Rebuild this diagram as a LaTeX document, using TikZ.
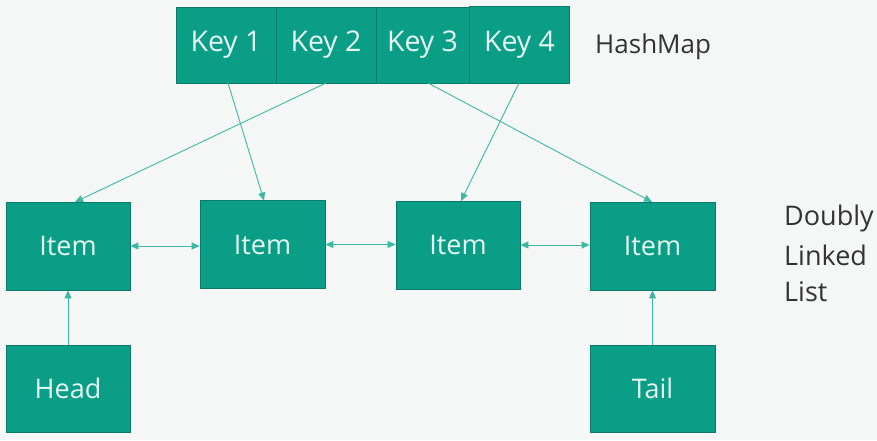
\documentclass[tikz,border=0pt]{standalone}
\usepackage{fontspec}
\setmainfont{Open Sans}
\usetikzlibrary{arrows.meta}
\definecolor{boxfill}{HTML}{0A9E87}
\definecolor{boxline}{HTML}{0B7A68}
\definecolor{arrowc}{HTML}{3DB8A2}
\definecolor{bgc}{HTML}{F5F7F7}
\definecolor{boxtext}{HTML}{E6F6F1}
\definecolor{sidetext}{HTML}{333333}
\tikzset{
  cell/.style={draw=boxline, line width=0.8pt, fill=boxfill, text=boxtext, inner sep=0pt, font=\fontsize{27}{30}\selectfont},
  keycell/.style={cell, font=\fontsize{28.5}{32}\selectfont},
  conn/.style={draw=arrowc, line width=0.9pt, -{Triangle[length=8pt,width=7pt]}},
  dconn/.style={draw=arrowc, line width=0.9pt, {Triangle[length=8pt,width=7pt]}-{Triangle[length=8pt,width=7pt]}},
  side/.style={text=sidetext, anchor=west, inner sep=0pt, font=\fontsize{27}{30}\selectfont}
}
\begin{document}
\begin{tikzpicture}[x=1pt,y=1pt]
\fill[bgc] (0,0) rectangle (877,-440);
\useasboundingbox (0,0) rectangle (877,-440);
% keys
\node[keycell, minimum width=100pt, minimum height=76pt] (k1) at (226,-45) {Key 1};
\node[keycell, minimum width=100pt, minimum height=76pt] (k2) at (326,-45) {Key 2};
\node[keycell, minimum width=93pt, minimum height=76pt] (k3) at (422.5,-45) {Key 3};
\node[keycell, minimum width=100pt, minimum height=77pt] (k4) at (519.5,-44.5) {Key 4};
\node[side, font=\fontsize{26}{30}\selectfont] (hm) at (595,-47) {HashMap};
% items
\node[cell, minimum width=124pt, minimum height=88pt] (i1) at (68,-246) {Item};
\node[cell, minimum width=125pt, minimum height=88pt] (i2) at (262.5,-244.5) {Item};
\node[cell, minimum width=124pt, minimum height=88pt] (i3) at (458,-245) {Item};
\node[cell, minimum width=125pt, minimum height=88pt] (i4) at (652.5,-246) {Item};
% head / tail
\node[cell, minimum width=124pt, minimum height=87pt] (head) at (68,-388.5) {Head};
\node[cell, minimum width=125pt, minimum height=87pt] (tail) at (652.5,-388.5) {Tail};
% label
\node[side] (d1) at (784,-218) {Doubly};
\node[side] (d2) at (784,-255) {Linked};
\node[side] (d3) at (784,-292) {List};
% connectors
\draw[conn] (head.north) -- (i1.south);
\draw[conn] (tail.north) -- (i4.south);
\draw[dconn] (i1.east) -- (i2.west |- i1.east);
\draw[dconn] (i2.east) -- (i3.west |- i2.east);
\draw[dconn] (i3.east) -- (i4.west |- i3.east);
\coordinate (k1b) at (228,-83);
\coordinate (k2b) at (326,-83);
\coordinate (k3b) at (428,-83);
\coordinate (k4b) at (519,-83);
\coordinate (i1t) at (75,-202);
\coordinate (i2t) at (264,-200.5);
\coordinate (i3t) at (461,-201);
\coordinate (i4t) at (652,-202);
\draw[conn] (k1b) -- (i2t);
\draw[conn] (k2b) -- (i1t);
\draw[conn] (k3b) -- (i4t);
\draw[conn] (k4b) -- (i3t);
\end{tikzpicture}
\end{document}
